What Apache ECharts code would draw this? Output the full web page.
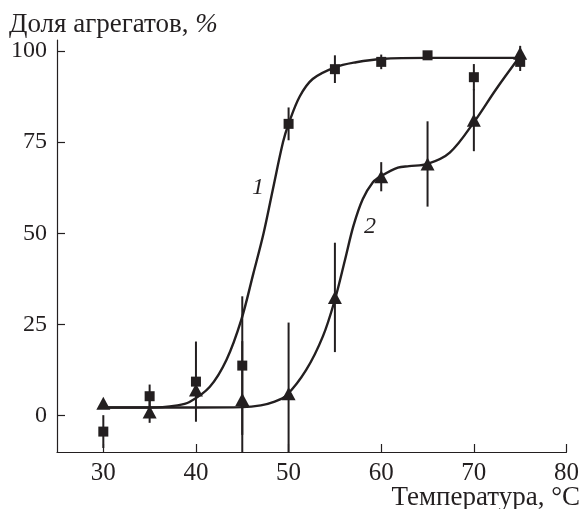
<!DOCTYPE html>
<html><head><meta charset="utf-8">
<script src="https://cdn.jsdelivr.net/npm/echarts@6/dist/echarts.min.js"></script>
<style>html,body{margin:0;padding:0;background:#fff}#c{width:582px;height:509px}</style>
</head><body><div id="c"></div>
<script>
// Temperature points
var tempX = [30, 35, 40, 45, 50, 55, 60, 65, 70, 75];
// Series 1 (squares)
var sqY   = [-4.4, 5.3, 9.3, 13.7, 80, 95, 97, 98.8, 92.8, 97];
var sqErr = [4.5, 3.2, 11, 19, 4.5, 3.8, 2, 1, 3.6, 2.5];
// Series 2 (triangles)
var triY   = [3.4, 1, 7, 4.4, 6, 32.4, 65.5, 69, 81, 99.4];
var triErr = [0, 3, 0, 16, 19.5, 15, 4, 11.7, 8.5, 2];
// Fitted curves
var curve1X = [30, 35, 38, 39.3, 41.5, 43.3, 44.9, 46.2, 47.3, 48.3, 49.4, 50, 51.2, 52.6, 55, 57.3, 60, 65, 75];
var curve1Y = [2.2, 2.2, 2.8, 3.7, 7.9, 15.3, 26.3, 39, 50, 62, 75, 80, 87.5, 92.3, 95.5, 96.9, 97.8, 98.1, 98.1];
var curve2X = [30, 40, 45, 47, 48.5, 49.8, 51.9, 53.7, 55, 56.1, 57, 58, 59.1, 60, 61.8, 63, 65, 67.4, 70.1, 72.4, 75];
var curve2Y = [2.2, 2.2, 2.3, 2.8, 3.8, 5.6, 12.5, 21.7, 31.8, 42.8, 52, 59.3, 64, 65.7, 68, 68.4, 69, 72.1, 80.8, 89.5, 98.6];
// Tick labels
var xTicks = [30, 40, 50, 60, 70, 80];
var yTicks = [0, 25, 50, 75, 100];

var INK = '#231f20';
var FONT = '"Liberation Serif", "DejaVu Serif", serif';

function zip(a, b) { return a.map(function (v, i) { return [v, b[i]]; }); }
function errData(ys, es) { return tempX.map(function (x, i) { return [x, ys[i] - es[i], ys[i] + es[i]]; }); }

function errRender(params, api) {
  var x = api.value(0), lo = api.value(1), hi = api.value(2);
  var p1 = api.coord([x, lo]), p2 = api.coord([x, hi]);
  var cs = params.coordSys;
  var top = cs.y, bot = cs.y + cs.height;
  var y1 = Math.min(Math.max(p1[1], top), bot), y2 = Math.min(Math.max(p2[1], top), bot);
  return { type: 'line', shape: { x1: p1[0], y1: y1, x2: p2[0], y2: y2 },
           style: { stroke: INK, lineWidth: 2 } };
}

var chart = echarts.init(document.getElementById('c'), null, { renderer: 'canvas' });
chart.setOption({
  animation: false,
  backgroundColor: '#fff',
  grid: { left: 57, top: 40, width: 510, height: 412, containLabel: false },
  xAxis: {
    type: 'value', min: 25, max: 80,
    axisLine: { onZero: false, lineStyle: { color: INK, width: 1.2 } },
    axisTick: { inside: true, length: 8, customValues: xTicks, lineStyle: { color: INK, width: 1.2 } },
    axisLabel: { customValues: xTicks, margin: 9, color: INK, fontFamily: FONT, fontSize: 25 },
    splitLine: { show: false }
  },
  yAxis: {
    type: 'value', min: -10, max: 103,
    axisLine: { show: true, onZero: false, lineStyle: { color: INK, width: 1.2 } },
    axisTick: { show: true, inside: true, length: 8, customValues: yTicks, lineStyle: { color: INK, width: 1.2 } },
    axisLabel: { customValues: yTicks, margin: 10, color: INK, fontFamily: FONT, fontSize: 24 },
    splitLine: { show: false }
  },
  graphic: [
    { type: 'text', left: 9, top: 11, style: {
        text: '{a|Доля агрегатов, }{i|%}',
        rich: { a: { fontFamily: FONT, fontSize: 27, fill: INK }, i: { fontFamily: FONT, fontSize: 27, fontStyle: 'italic', fill: INK } } } },
    { type: 'text', right: 2, top: 484, style: { text: 'Температура, °C', fontFamily: FONT, fontSize: 27, fill: INK } },
    { type: 'text', left: 252, top: 176, style: { text: '1', fontFamily: FONT, fontSize: 24, fontStyle: 'italic', fill: INK } },
    { type: 'text', left: 364, top: 215, style: { text: '2', fontFamily: FONT, fontSize: 24, fontStyle: 'italic', fill: INK } }
  ],
  series: [
    { type: 'line', data: zip(curve1X, curve1Y), smooth: 0.35, showSymbol: false, symbol: 'none',
      lineStyle: { color: INK, width: 2.4 }, z: 2 },
    { type: 'line', data: zip(curve2X, curve2Y), smooth: 0.35, showSymbol: false, symbol: 'none',
      lineStyle: { color: INK, width: 2.4 }, z: 2 },
    { type: 'custom', data: errData(sqY, sqErr), renderItem: errRender, z: 3 },
    { type: 'custom', data: errData(triY, triErr), renderItem: errRender, z: 3 },
    { type: 'scatter', data: zip(tempX, sqY), symbol: 'rect', symbolSize: 10,
      itemStyle: { color: INK, opacity: 1 }, z: 4 },
    { type: 'scatter', data: zip(tempX, triY), symbol: 'triangle', symbolSize: [14, 13],
      itemStyle: { color: INK, opacity: 1 }, z: 4 }
  ]
});
</script>
</body></html>
